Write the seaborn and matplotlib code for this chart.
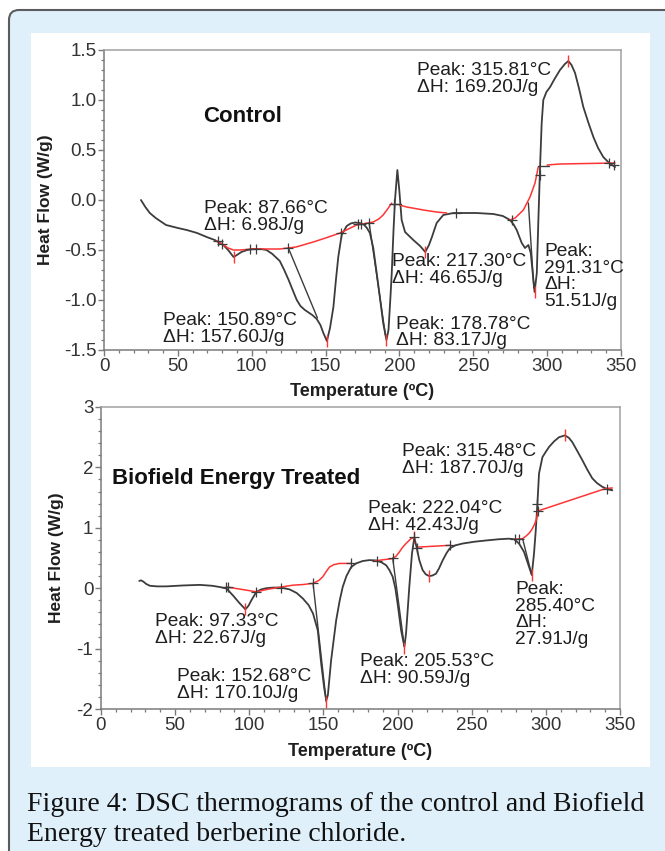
"""
DSC thermograms of control and Biofield Energy treated berberine chloride
"""

import numpy as np
import pandas as pd
import seaborn as sns
import matplotlib.pyplot as plt
from matplotlib.patches import FancyBboxPatch, Rectangle
from matplotlib.ticker import MultipleLocator, FormatStrFormatter

# ---- control sample -------------------------------------------------------
control_temp = [25, 28, 31, 35, 42, 50, 56, 63, 69.5, 75, 80.8, 84, 87.7, 90, 93, 97,
                101, 106, 110, 114, 119, 122, 125, 128, 130.5, 133, 136, 141, 144,
                146.5, 148.5, 150.9, 153, 155.3, 157, 158.6, 160.9, 164.3, 167, 170,
                173, 175.6, 178, 180, 182.3, 184.6, 187, 189, 191.2, 192.6, 194,
                194.8, 196, 197, 198.6, 199.9, 201.5, 203.8, 209.4, 214, 217.5, 220,
                222, 225.2, 229.7, 236.5, 241, 252, 263.6, 270, 274.9, 277.5, 279.4,
                282.8, 285, 287.3, 288.9, 290.7, 291.5, 293, 294, 295.2, 296.3, 297.4,
                299.5, 302, 305, 308.7, 312, 314.4, 316.5, 318.9, 321.5, 324.5, 328,
                331.3, 334.5, 338, 342, 346]
control_flow = [0.00, -0.07, -0.13, -0.18, -0.25, -0.28, -0.30, -0.33, -0.37, -0.40,
                -0.45, -0.50, -0.57, -0.55, -0.52, -0.50, -0.49, -0.49, -0.50, -0.54,
                -0.61, -0.70, -0.80, -0.91, -1.00, -1.06, -1.10, -1.15, -1.19, -1.25,
                -1.33, -1.41, -1.28, -1.07, -0.80, -0.57, -0.35, -0.26, -0.235, -0.225,
                -0.23, -0.24, -0.28, -0.33, -0.48, -0.73, -1.00, -1.23, -1.40, -1.30,
                -0.95, -0.73, -0.30, 0.00, 0.30, 0.10, -0.20, -0.32, -0.40, -0.46,
                -0.52, -0.45, -0.37, -0.23, -0.15, -0.13, -0.13, -0.13, -0.14, -0.16,
                -0.20, -0.25, -0.30, -0.43, -0.48, -0.45, -0.53, -0.80, -0.92, -0.73,
                -0.23, 0.33, 0.77, 1.00, 1.08, 1.13, 1.21, 1.30, 1.36, 1.39, 1.35,
                1.27, 1.12, 0.93, 0.77, 0.63, 0.52, 0.43, 0.37, 0.33]

# integration baselines (red), one list per segment
control_base_temp = [
    [76, 80, 84, 87.7, 92, 101, 119, 130, 141.7, 150, 159.8, 171, 182.3, 186, 189, 192, 194.8],
    [200, 205, 216.2, 225, 232],
    [274.9, 278.3, 283.9, 288.4, 291.8, 294],
    [300, 308.7, 346],
]
control_base_flow = [
    [-0.41, -0.44, -0.48, -0.50, -0.50, -0.49, -0.49, -0.47, -0.42, -0.38, -0.33, -0.25,
     -0.22, -0.19, -0.15, -0.09, -0.03],
    [-0.05, -0.07, -0.10, -0.12, -0.13],
    [-0.20, -0.18, -0.10, 0.03, 0.17, 0.33],
    [0.35, 0.36, 0.37],
]
# straight construction lines of the analysis software (black)
control_guide_temp = [[124.8, 144.5], [179.5, 190.5], [287.3, 291.0], [195, 201], [294, 301]]
control_guide_flow = [[-0.48, -1.18], [-0.23, -1.35], [-0.03, -0.88], [-0.04, -0.04], [0.34, 0.34]]
control_peak_temp = [87.7, 150.9, 191.2, 217.5, 291.5, 314.4]
control_peak_flow = [-0.57, -1.41, -1.40, -0.52, -0.92, 1.39]
control_cross_temp = [77, 80, 99, 103, 124.8, 160.5, 172, 174, 179.5, 196, 238, 276, 295.5, 342, 345]
control_cross_flow = [-0.41, -0.44, -0.49, -0.49, -0.48, -0.33, -0.24, -0.24, -0.23, -0.04,
                      -0.13, -0.20, 0.25, 0.37, 0.35]

# ---- Biofield Energy treated sample ---------------------------------------
treated_temp = [25.8, 27, 28.5, 30.5, 33, 38, 44, 55, 66.6, 75, 80, 84.6, 89, 93.5, 97.4,
                99.5, 101.4, 104.8, 108, 111.5, 116, 121.6, 127.2, 132, 136.1, 140, 143,
                146.2, 148.5, 150.5, 151.9, 153, 155.2, 158.6, 161, 163, 165.5, 168.7,
                172, 176.5, 181, 185.5, 189, 192.3, 194.5, 196.7, 198.5, 200, 202.4,
                204.6, 205.7, 207, 207.9, 209.7, 211.3, 212.8, 214.7, 216.9, 219, 221.4,
                223.5, 225.9, 228, 230.4, 233, 235.2, 239, 244, 252, 259.6, 268, 275,
                278.6, 281.9, 285.3, 288.7, 290.5, 292, 293.2, 294.3, 295.4, 297.7, 300,
                302.2, 305.5, 308.9, 312.9, 315.5, 317.8, 321, 324.6, 328, 331.3, 334.5,
                338, 341.5, 344.8]
treated_flow = [0.12, 0.13, 0.11, 0.07, 0.04, 0.03, 0.03, 0.045, 0.055, 0.04, 0.02, -0.005,
                -0.12, -0.25, -0.35, -0.29, -0.20, -0.06, -0.02, 0.00, 0.01, 0.01, -0.02,
                -0.08, -0.17, -0.28, -0.42, -0.70, -1.25, -1.65, -1.86, -1.77, -1.19,
                -0.53, -0.20, 0.02, 0.20, 0.35, 0.41, 0.45, 0.465, 0.46, 0.43, 0.38,
                0.30, 0.19, 0.00, -0.25, -0.70, -0.97, -0.75, -0.30, 0.02, 0.57, 0.84,
                0.68, 0.46, 0.30, 0.23, 0.20, 0.21, 0.24, 0.33, 0.46, 0.58, 0.66, 0.71,
                0.74, 0.77, 0.79, 0.81, 0.82, 0.81, 0.74, 0.60, 0.35, 0.22, 0.57, 0.96,
                1.40, 1.90, 2.17, 2.26, 2.34, 2.43, 2.50, 2.53, 2.49, 2.42, 2.28, 2.12,
                1.96, 1.82, 1.74, 1.68, 1.64, 1.62]

treated_base_temp = [
    [84.6, 95, 104.8, 112, 121.6, 129.4, 136, 143, 147, 149.6, 152, 154.1, 157, 160.8, 168.7],
    [184.4, 190, 196.7, 199, 201.2, 203.5, 205.7, 209, 211.3],
    [213.5, 235.2],
    [278.6, 284.3, 286.5, 288.7, 290.5, 292, 293.5, 294.3, 294.8, 340.3, 344.8],
]
treated_base_flow = [
    [0.02, -0.02, -0.06, -0.02, 0.02, 0.05, 0.06, 0.08, 0.13, 0.19, 0.28, 0.35, 0.39, 0.41, 0.41],
    [0.45, 0.47, 0.49, 0.53, 0.60, 0.68, 0.74, 0.82, 0.84],
    [0.68, 0.71],
    [0.81, 0.82, 0.86, 0.91, 0.97, 1.04, 1.13, 1.21, 1.28, 1.65, 1.66],
]
treated_guide_temp = [[143, 151.9], [196.7, 204.6], [284.3, 290.5]]
treated_guide_flow = [[0.08, -1.88], [0.50, -0.97], [0.82, 0.22]]
treated_peak_temp = [97.4, 151.9, 204.6, 211.3, 221.4, 290.5, 312.9]
treated_peak_flow = [-0.35, -1.88, -0.99, 0.84, 0.20, 0.22, 2.53]
treated_cross_temp = [84, 85.5, 104.8, 121.6, 143, 168.7, 186, 196.7, 211.3, 213, 235.2,
                      279, 282, 294.3, 294.8, 341.5]
treated_cross_flow = [0.02, 0.02, -0.06, 0.01, 0.08, 0.41, 0.45, 0.50, 0.84, 0.66, 0.71,
                      0.81, 0.81, 1.40, 1.28, 1.65]

control_notes = ["Peak: 87.66°C\nΔH: 6.98J/g", "Peak: 150.89°C\nΔH: 157.60J/g",
                 "Peak: 217.30°C\nΔH: 46.65J/g", "Peak: 178.78°C\nΔH: 83.17J/g",
                 "Peak: 315.81°C\nΔH: 169.20J/g", "Peak:\n291.31°C\nΔH:\n51.51J/g"]
treated_notes = ["Peak: 97.33°C\nΔH: 22.67J/g", "Peak: 152.68°C\nΔH: 170.10J/g",
                 "Peak: 205.53°C\nΔH: 90.59J/g", "Peak: 222.04°C\nΔH: 42.43J/g",
                 "Peak: 315.48°C\nΔH: 187.70J/g", "Peak:\n285.40°C\nΔH:\n27.91J/g"]

CURVE = "#3c3c3c"
RED = "#ff3434"
TXT = "#1e1e1e"

sns.set_style("ticks")
plt.rcParams["font.family"] = ["Liberation Sans", "DejaVu Sans"]
plt.rcParams["axes.unicode_minus"] = False


def draw_thermogram(ax, temp, flow, base_t, base_f, guide_t, guide_f,
                    peak_t, peak_f, cross_t, cross_f):
    df = pd.DataFrame({"temp": temp, "flow": flow})
    sns.lineplot(data=df, x="temp", y="flow", sort=False, estimator=None,
                 color=CURVE, lw=1.3, ax=ax)
    for t, f in zip(base_t, base_f):
        sns.lineplot(x=t, y=f, sort=False, estimator=None, color=RED, lw=1.1, ax=ax)
    for t, f in zip(guide_t, guide_f):
        sns.lineplot(x=t, y=f, sort=False, estimator=None, color=CURVE, lw=1.0, ax=ax)
    ax.plot(peak_t, peak_f, ls="none", marker="|", ms=9, mew=1.0, color=RED)
    ax.plot(cross_t, cross_f, ls="none", marker="+", ms=7, mew=0.9, color=CURVE)


def style_axes(ax, ylim, ymajor, yminor, yfmt):
    ax.set_xlim(0, 350)
    ax.set_ylim(*ylim)
    ax.xaxis.set_major_locator(MultipleLocator(50))
    ax.xaxis.set_minor_locator(MultipleLocator(10))
    ax.yaxis.set_major_locator(MultipleLocator(ymajor))
    ax.yaxis.set_minor_locator(MultipleLocator(yminor))
    ax.yaxis.set_major_formatter(FormatStrFormatter(yfmt))
    ax.tick_params(which="major", direction="out", length=4, width=1, color="#7a7a7a",
                   labelsize=13.5, labelcolor="#333333", pad=1.5)
    ax.tick_params(which="minor", direction="out", length=2.5, width=0.9, color="#7a7a7a")
    for side, s in ax.spines.items():
        s.set_linewidth(1.1)
        s.set_color("#7a7a7a" if side in ("left", "bottom") else "#a0a0a0")
    ax.set_xlabel("Temperature (ºC)", fontsize=13, fontweight="bold", color=TXT)
    ax.set_ylabel("Heat Flow (W/g)", fontsize=12.5, fontweight="bold", color=TXT)
    ax.set_facecolor("white")


fig = plt.figure(figsize=(6.65, 8.51), dpi=100)
fig.patch.set_facecolor("white")

# page decoration in pixel coordinates
bg = fig.add_axes([0, 0, 1, 1], zorder=-10)
bg.set_xlim(0, 665)
bg.set_ylim(851, 0)
bg.axis("off")
bg.add_patch(FancyBboxPatch((9, 10), 700, 900, boxstyle="round,pad=0,rounding_size=10",
                            facecolor="#dff0fa", edgecolor="#5c5c5c", lw=1.5))
bg.add_patch(Rectangle((31, 33), 619, 734, facecolor="white", edgecolor="none"))
bg.text(27, 811, "Figure 4: DSC thermograms of the control and Biofield",
        family="Liberation Serif", fontsize=20, color="#111111", va="baseline")
bg.text(27, 841, "Energy treated berberine chloride.",
        family="Liberation Serif", fontsize=20, color="#111111", va="baseline")

ax1 = fig.add_axes([104 / 665, 1 - 350 / 851, 517 / 665, 300 / 851])
ax2 = fig.add_axes([101 / 665, 1 - 709 / 851, 519 / 665, 302 / 851])

draw_thermogram(ax1, control_temp, control_flow, control_base_temp, control_base_flow,
                control_guide_temp, control_guide_flow, control_peak_temp, control_peak_flow,
                control_cross_temp, control_cross_flow)
draw_thermogram(ax2, treated_temp, treated_flow, treated_base_temp, treated_base_flow,
                treated_guide_temp, treated_guide_flow, treated_peak_temp, treated_peak_flow,
                treated_cross_temp, treated_cross_flow)

style_axes(ax1, (-1.5, 1.5), 0.5, 0.1, "%.1f")
style_axes(ax2, (-2, 3), 1, 0.2, "%d")
ax1.yaxis.set_label_coords(-0.099, 0.5)
ax2.yaxis.set_label_coords(-0.071, 0.5)
ax1.xaxis.set_label_coords(0.5, -0.11)
ax2.xaxis.set_label_coords(0.5, -0.113)

# annotation anchors (left, vertical centre) in data units
control_note_pos = [(67.7, -0.17), (40, -1.29), (195, -0.70), (198, -1.325), (212, 1.21), (298, -0.765)]
treated_note_pos = [(36.7, -0.695), (51.3, -1.606), (174.6, -1.349), (180.3, 1.18), (203.2, 2.12), (279.3, -0.434)]

for ax, notes, pos in [(ax1, control_notes, control_note_pos), (ax2, treated_notes, treated_note_pos)]:
    for note, (x, y) in zip(notes, pos):
        ax.text(x, y, note, fontsize=13.8, color=TXT, ha="left", va="center",
                linespacing=0.98, zorder=5)

ax1.text(67.4, 0.83, "Control", fontsize=16, fontweight="bold", color="#111111", va="center")
ax2.text(7.2, 1.82, "Biofield Energy Treated", fontsize=16, fontweight="bold",
         color="#111111", va="center")

fig.savefig("out.png", dpi=100)
